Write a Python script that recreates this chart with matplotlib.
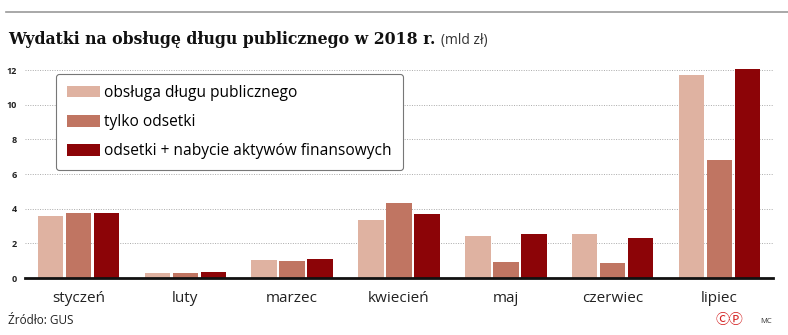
import numpy as np
import matplotlib.pyplot as plt

# data (mld zł)
months = ["styczeń", "luty", "marzec", "kwiecień", "maj", "czerwiec", "lipiec"]
obsluga = [3.55, 0.31, 1.04, 3.35, 2.45, 2.55, 11.7]
odsetki = [3.77, 0.31, 1.00, 4.31, 0.91, 0.85, 6.8]
odsetki_aktywa = [3.74, 0.35, 1.08, 3.68, 2.52, 2.33, 12.04]
series_names = ["obsługa długu publicznego", "tylko odsetki",
                "odsetki + nabycie aktywów finansowych"]
yticks = [0, 2, 4, 6, 8, 10, 12]

colors = ["#dfb2a1", "#c07562", "#8c0407"]
sans = "Open Sans"

W, H = 788, 335
fig = plt.figure(figsize=(W / 100, H / 100), dpi=100)

# axes placed in pixel terms: left 25, right 773, y=0 at 278, y=12 at 70
ax = fig.add_axes([25 / W, (H - 278) / H, (773 - 25) / W, (278 - 70) / H])

x = np.arange(len(months))
step = 0.262
width = 0.238
for k, vals in enumerate([obsluga, odsetki, odsetki_aktywa]):
    ax.bar(x + (k - 1) * step, vals, width, color=colors[k],
           label=series_names[k], clip_on=False, zorder=3)

ax.set_xlim(-0.5, 6.5)
ax.set_ylim(0, 12)
ax.set_yticks(yticks)
ax.set_yticklabels([str(t) for t in yticks], fontsize=6.5, fontweight="bold",
                   family=sans, color="#222222")
ax.set_xticks(x)
ax.set_xticklabels(months, fontsize=11, family=sans, color="#222222")
ax.tick_params(axis="both", length=0)
ax.tick_params(axis="y", pad=6)
ax.tick_params(axis="x", pad=9)

for t in yticks[1:]:
    ax.axhline(t, color="#aaaaaa", lw=0.7, ls=(0, (1, 1.5)), zorder=1)
ax.axhline(0, color="#111111", lw=2, zorder=4, clip_on=False)
for s in ax.spines.values():
    s.set_visible(False)

# legend box
leg = ax.legend(loc="upper left", bbox_to_anchor=((56 - 25) / 748, 1 - (74 - 70) / 208),
                prop={"family": sans, "size": 11.2}, frameon=True, fancybox=True,
                handlelength=2.1, handleheight=0.8, handletextpad=0.3,
                labelspacing=0.85, borderpad=0.7, borderaxespad=0)
leg.get_frame().set_edgecolor("#777777")
leg.get_frame().set_linewidth(0.8)
leg.get_frame().set_facecolor("white")
leg.get_frame().set_alpha(1)
leg.set_zorder(5)

# top rule
fig.add_artist(plt.Line2D([6 / W, 1], [1 - 12 / H, 1 - 12 / H], color="#999999", lw=1.2))

# title
t = fig.text(8 / W, 1 - 44 / H, "Wydatki na obsługę długu publicznego w 2018 r.",
             fontsize=11.3, fontweight="bold", family="DejaVu Serif", color="#111111",
             va="baseline")
fig.canvas.draw()
bb = t.get_window_extent()
fig.text((bb.x1 + 6) / W, 1 - 44 / H, "(mld zł)", fontsize=10, family=sans,
         color="#333333", va="baseline")

fig.text(8 / W, 1 - 324 / H, "Źródło: GUS", fontsize=8.5, family=sans,
         color="#222222", va="baseline")
fig.text(716 / W, 1 - 324 / H, "ⒸⓅ", fontsize=10,
         family=["DejaVu Sans", "Noto Sans CJK JP"],
         color="#d42020", va="baseline")
fig.text(760 / W, 1 - 323 / H, "MC", fontsize=5.5, family=sans,
         color="#333333", va="baseline")

fig.savefig("out.png", dpi=100)
